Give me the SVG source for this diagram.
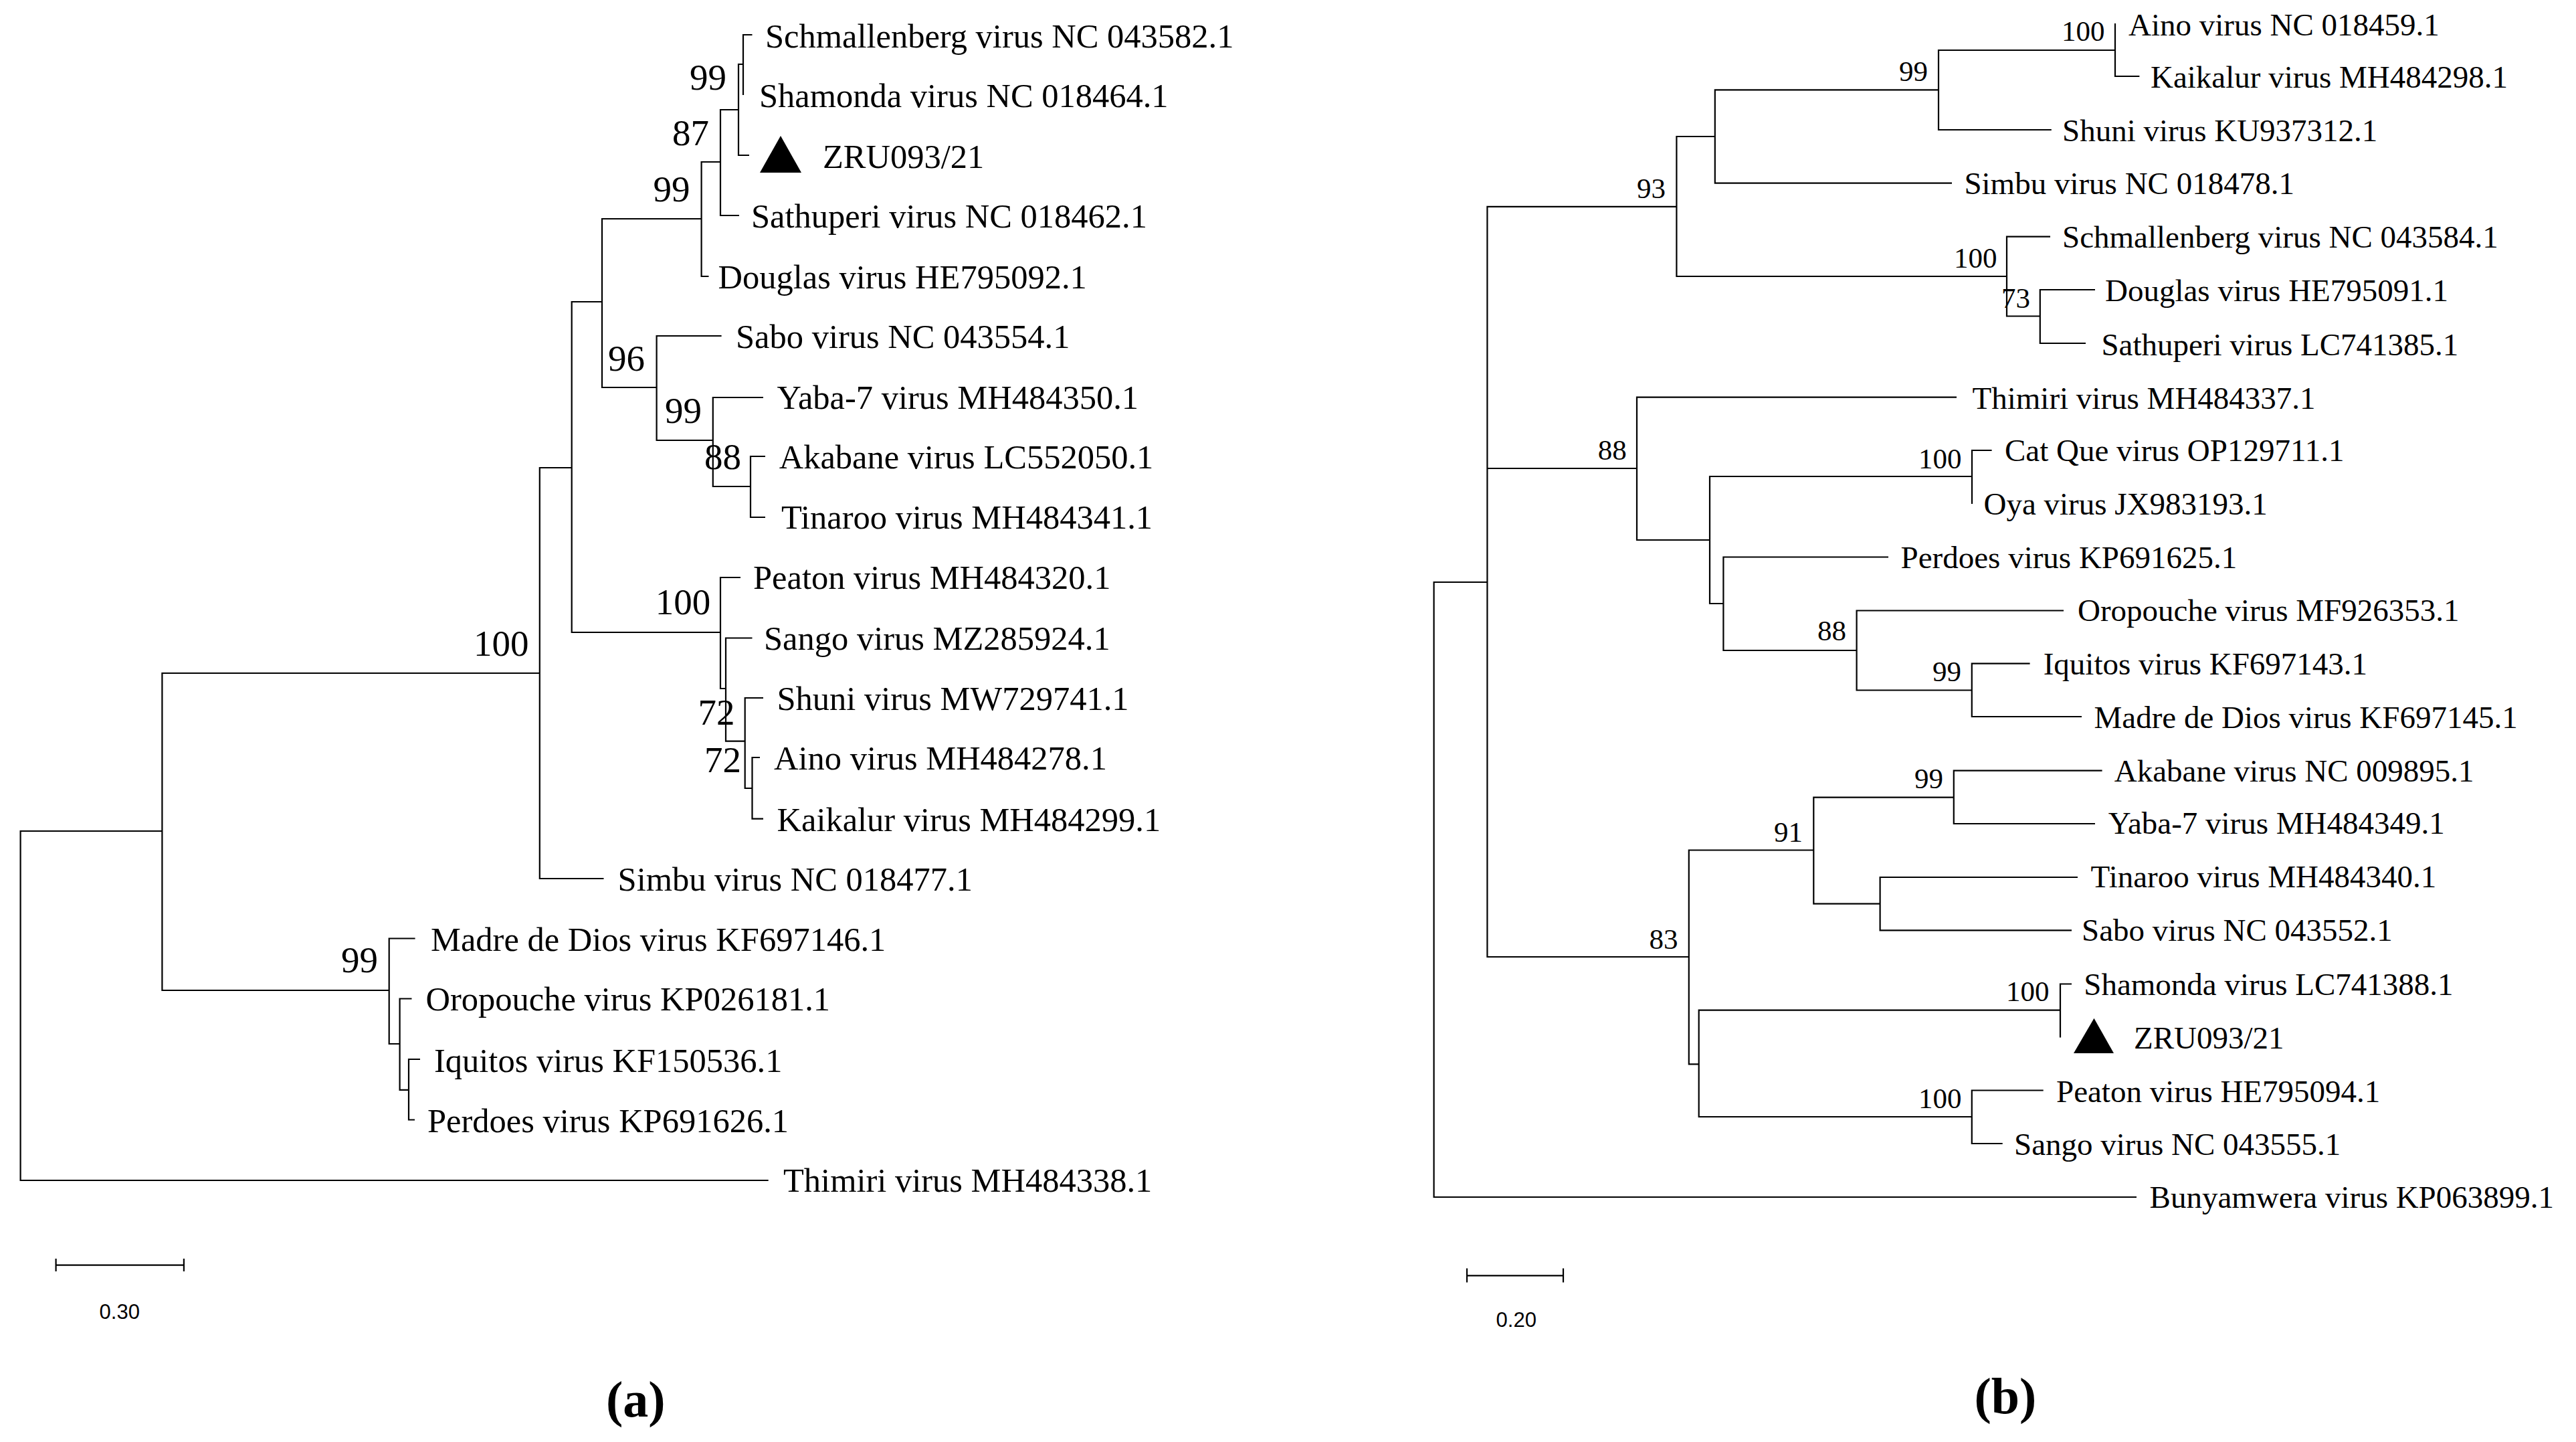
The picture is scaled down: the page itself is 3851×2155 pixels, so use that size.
<svg xmlns="http://www.w3.org/2000/svg" width="3851" height="2155" viewBox="0 0 3851 2155">
<style>
.br{fill:none;stroke:#000;stroke-width:2.2;stroke-linejoin:miter}
.la{font-family:"Liberation Serif","Times New Roman",serif;font-size:50.5px;fill:#000}
.lb{font-family:"Liberation Serif","Times New Roman",serif;font-size:47px;fill:#000}
.ba{font-family:"Liberation Serif","Times New Roman",serif;font-size:55px;fill:#000}
.bb{font-family:"Liberation Serif","Times New Roman",serif;font-size:43px;fill:#000}
.sc{font-family:"Liberation Sans",Arial,sans-serif;font-size:31px;fill:#000}
.pn{font-family:"Liberation Serif","Times New Roman",serif;font-size:76px;font-weight:bold;fill:#000}
.tri{fill:#000}
</style>
<rect width="3851" height="2155" fill="#fff"/>
<g id="connectors">
<path id="branches-a" class="br" d="M242.4 1242 H30.6 V1764 H1148.7 M806.8 1006 H242.4 V1480 H581.7 M854.7 699 H806.8 V1313 H902.5 M900 451 H854.7 V945 H1077 M1048.6 327 H900 V579 H981.6 M1077 242 H1048.6 V413 H1059.5 M1104 164 H1077 V322 H1105 M1111 96 H1104 V232 H1120 M1124.5 52 H1111 V142 M1078.6 502 H981.6 V658 H1065.8 M1141 594 H1065.8 V727 H1122 M1144 682 H1122 V773 H1144 M1107 863 H1077 V1029 H1085 M1124.5 953.5 H1085 V1107.6 H1113.7 M1141 1043 H1113.7 V1178 H1124.5 M1136 1132 H1124.5 V1223.6 H1141 M620.6 1402.5 H581.7 V1560 H597.6 M615.5 1492.5 H597.6 V1628.8 H611 M628 1583 H611 V1673.5 H620"/>
<path id="branches-b" class="br" d="M2223.4 870 H2143.6 V1789 H3194 M2506.4 308.8 H2223.4 V1430 H2524.8 M2223.4 700 H2447 M2563.8 204 H2506.4 V413 H3000 M2898 134.3 H2563.8 V273.6 H2918 M3162 75 H2898 V194 H3066.8 M3162 35 V114 H3198.4 M3065 353.6 H3000 V472.5 H3049.8 M3132 433 H3049.8 V513 H3118 M2925 593.6 H2447 V807 H2556 M2948 712 H2556 V902 H2576.4 M2977.6 673 H2948 V753 M2823 832.5 H2576.4 V972 H2775.6 M3085 912.5 H2775.6 V1031.5 H2947.8 M3034.6 991.7 H2947.8 V1071 H3112 M2711.3 1270.5 H2524.8 V1590.4 H2539.7 M2920.8 1191.7 H2711.3 V1350.6 H2810.6 M3142.6 1151.7 H2920.8 V1231 H3132 M3106 1311 H2810.6 V1390.4 H3097 M3080 1509.6 H2539.7 V1669 H2947.8 M3097 1470.5 H3080 V1550.6 M3054.7 1629.5 H2947.8 V1709 H2993.7"/>
</g>
<g id="tree-a-leaves" class="la">
<text id="a-schmallenberg" x="1144" y="71">Schmallenberg virus NC 043582.1</text>
<text id="a-shamonda" x="1135" y="160">Shamonda virus NC 018464.1</text>
<g id="a-zru"><polygon class="tri" points="1167,203 1136,258 1198,258"/><text x="1230" y="251">ZRU093/21</text></g>
<text id="a-sathuperi" x="1123" y="340">Sathuperi virus NC 018462.1</text>
<text id="a-douglas" x="1073.5" y="431">Douglas virus HE795092.1</text>
<text id="a-sabo" x="1100" y="520">Sabo virus NC 043554.1</text>
<text id="a-yaba" x="1161.5" y="611">Yaba-7 virus MH484350.1</text>
<text id="a-akabane" x="1164.7" y="700">Akabane virus LC552050.1</text>
<text id="a-tinaroo" x="1168" y="790">Tinaroo virus MH484341.1</text>
<text id="a-peaton" x="1126" y="880">Peaton virus MH484320.1</text>
<text id="a-sango" x="1142" y="971">Sango virus MZ285924.1</text>
<text id="a-shuni" x="1161.5" y="1061">Shuni virus MW729741.1</text>
<text id="a-aino" x="1157" y="1150">Aino virus MH484278.1</text>
<text id="a-kaikalur" x="1161.5" y="1241.5">Kaikalur virus MH484299.1</text>
<text id="a-simbu" x="923.6" y="1331">Simbu virus NC 018477.1</text>
<text id="a-madre" x="644" y="1421">Madre de Dios virus KF697146.1</text>
<text id="a-oropouche" x="636.5" y="1510">Oropouche virus KP026181.1</text>
<text id="a-iquitos" x="649" y="1601.5">Iquitos virus KF150536.1</text>
<text id="a-perdoes" x="639" y="1691.5">Perdoes virus KP691626.1</text>
<text id="a-thimiri" x="1171" y="1781">Thimiri virus MH484338.1</text>
</g>
<g id="tree-a-support" class="ba">
<text x="1031" y="134">99</text>
<text x="1005" y="217">87</text>
<text x="976.5" y="301">99</text>
<text x="909" y="554">96</text>
<text x="994" y="632">99</text>
<text x="1053" y="701">88</text>
<text x="979.7" y="918">100</text>
<text x="1043.5" y="1083">72</text>
<text x="1053" y="1153.5">72</text>
<text x="708" y="980">100</text>
<text x="510" y="1452.7">99</text>
</g>
<g id="tree-b-leaves" class="lb">
<text id="b-aino" x="3182" y="52.6">Aino virus NC 018459.1</text>
<text id="b-kaikalur" x="3215" y="130.6">Kaikalur virus MH484298.1</text>
<text id="b-shuni" x="3083" y="211.4">Shuni virus KU937312.1</text>
<text id="b-simbu" x="2936.4" y="290">Simbu virus NC 018478.1</text>
<text id="b-schmallenberg" x="3083" y="370">Schmallenberg virus NC 043584.1</text>
<text id="b-douglas" x="3147" y="449.7">Douglas virus HE795091.1</text>
<text id="b-sathuperi" x="3141.4" y="530.6">Sathuperi virus LC741385.1</text>
<text id="b-thimiri" x="2948.5" y="610.6">Thimiri virus MH484337.1</text>
<text id="b-catque" x="2997" y="689">Cat Que virus OP129711.1</text>
<text id="b-oya" x="2965.5" y="769">Oya virus JX983193.1</text>
<text id="b-perdoes" x="2841.6" y="848.7">Perdoes virus KP691625.1</text>
<text id="b-oropouche" x="3106" y="927.5">Oropouche virus MF926353.1</text>
<text id="b-iquitos" x="3054.7" y="1008">Iquitos virus KF697143.1</text>
<text id="b-madre" x="3130.5" y="1088">Madre de Dios virus KF697145.1</text>
<text id="b-akabane" x="3160.8" y="1168">Akabane virus NC 009895.1</text>
<text id="b-yaba" x="3151.7" y="1246">Yaba-7 virus MH484349.1</text>
<text id="b-tinaroo" x="3125.6" y="1326">Tinaroo virus MH484340.1</text>
<text id="b-sabo" x="3112" y="1406">Sabo virus NC 043552.1</text>
<text id="b-shamonda" x="3115.3" y="1486.5">Shamonda virus LC741388.1</text>
<g id="b-zru"><polygon class="tri" points="3130.5,1521.8 3100,1574 3160,1574"/><text x="3190" y="1566.7">ZRU093/21</text></g>
<text id="b-peaton" x="3074" y="1646.8">Peaton virus HE795094.1</text>
<text id="b-sango" x="3011" y="1725.6">Sango virus NC 043555.1</text>
<text id="b-bunyamwera" x="3213.6" y="1805">Bunyamwera virus KP063899.1</text>
</g>
<g id="tree-b-support" class="bb">
<text x="3082" y="61">100</text>
<text x="2839" y="121">99</text>
<text x="2447" y="296">93</text>
<text x="2921" y="400">100</text>
<text x="2992" y="460">73</text>
<text x="2388.7" y="687">88</text>
<text x="2868" y="699.5">100</text>
<text x="2717" y="957">88</text>
<text x="2889" y="1018">99</text>
<text x="2862" y="1178">99</text>
<text x="2652" y="1257.7">91</text>
<text x="2465.6" y="1418">83</text>
<text x="2999" y="1496">100</text>
<text x="2868" y="1656">100</text>
</g>
<g id="scale-a">
<path class="br" d="M83.6 1890.6 H274.9 M83.6 1881 V1900 M274.9 1881 V1900"/>
<text class="sc" x="148.6" y="1970.7">0.30</text>
</g>
<g id="scale-b">
<path class="br" d="M2193 1906.4 H2337 M2193 1895.5 V1916.6 M2337 1895.5 V1916.6"/>
<text class="sc" x="2236.6" y="1983">0.20</text>
</g>
<text id="panel-a" class="pn" x="906" y="2117">(a)</text>
<text id="panel-b" class="pn" x="2951.5" y="2111.5">(b)</text>
</svg>
